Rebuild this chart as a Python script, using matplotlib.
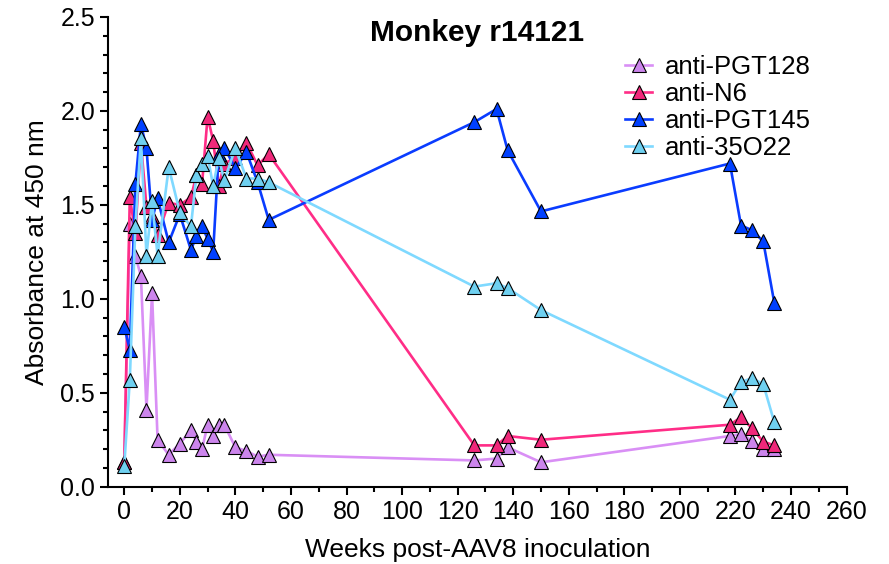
import matplotlib
matplotlib.use("Agg")
import matplotlib.pyplot as plt
from matplotlib.ticker import MultipleLocator

plt.rcParams['font.family'] = ['Liberation Sans', 'DejaVu Sans']

### Sampling times (weeks post-AAV8)
weeks = [0, 2, 4, 6, 8, 10, 12, 16, 20, 24, 26, 28, 30, 32, 34, 36, 40, 44, 48, 52,
         126, 134, 138, 150, 218, 222, 226, 230, 234]

### Absorbance at 450 nm for each probe
pgt128 = [0.13, 1.40, 1.23, 1.12, 0.41, 1.03, 0.25, 0.17, 0.23, 0.30, 0.24, 0.20, 0.33, 0.27,
          0.33, 0.33, 0.21, 0.19, 0.16, 0.17, 0.14, 0.15, 0.21, 0.13, 0.27, 0.28, 0.245, 0.20, 0.20]
n6 = [0.13, 1.54, 1.35, 1.83, 1.49, 1.44, 1.34, 1.51, 1.50, 1.54, 1.66, 1.61, 1.97, 1.84,
      1.60, 1.72, 1.75, 1.83, 1.71, 1.77, 0.22, 0.22, 0.27, 0.25, 0.33, 0.37, 0.31, 0.24, 0.22]
pgt145 = [0.85, 0.73, 1.61, 1.93, 1.80, 1.42, 1.535, 1.30, 1.45, 1.26, 1.335, 1.385, 1.32, 1.25,
          1.77, 1.805, 1.695, 1.78, 1.62, 1.42, 1.94, 2.01, 1.79, 1.465, 1.72, 1.39, 1.365, 1.305, 0.977]
o3522 = [0.11, 0.57, 1.385, 1.855, 1.23, 1.52, 1.23, 1.70, 1.46, 1.385, 1.66, 1.72, 1.76, 1.60,
         1.75, 1.63, 1.80, 1.64, 1.64, 1.62, 1.065, 1.083, 1.057, 0.94, 0.463, 0.557, 0.578, 0.546, 0.342]

series = [
    ('anti-PGT128', pgt128, '#d98ff5', '#cc85ec'),
    ('anti-N6', n6, '#ff2d87', '#f0287a'),
    ('anti-PGT145', pgt145, '#0a3cff', '#0040ff'),
    ('anti-35O22', o3522, '#7fd9ff', '#6fd0f0'),
]

fig = plt.figure(figsize=(8.89, 5.64), dpi=100)
ax = fig.add_axes([0.1218, 0.137, 0.8305, 0.833])

for label, vals, lc, fc in series:
    ax.plot(weeks, vals, color=lc, lw=1.9, marker='^', markersize=10,
            markerfacecolor=fc, markeredgecolor='black', markeredgewidth=0.8,
            label=label, clip_on=False)

ax.set_xlim(-5.75, 260)
ax.set_ylim(0, 2.5)
ax.xaxis.set_major_locator(MultipleLocator(20))
ax.xaxis.set_minor_locator(MultipleLocator(10))
ax.yaxis.set_major_locator(MultipleLocator(0.5))
ax.yaxis.set_minor_locator(MultipleLocator(0.1))
ax.yaxis.set_major_formatter(plt.FuncFormatter(lambda v, p: '%.1f' % v))

for s in ['top', 'right']:
    ax.spines[s].set_visible(False)
for s in ['left', 'bottom']:
    ax.spines[s].set_linewidth(1.5)
ax.tick_params(which='major', length=6, width=1.5, labelsize=18, direction='out')
ax.tick_params(which='minor', length=3.5, width=1.5, direction='out')

ax.set_xlabel('Weeks post-AAV8 inoculation', fontsize=19, labelpad=10)
ax.set_ylabel('Absorbance at 450 nm', fontsize=19, labelpad=8)
ax.text(0.5, 0.966, 'Monkey r14121', transform=ax.transAxes, ha='center', va='center',
        fontsize=21.5, fontweight='bold')

ax.legend(loc='upper left', bbox_to_anchor=(0.70, 0.919), frameon=False, fontsize=18.5,
          handlelength=1.05, handletextpad=0.5, labelspacing=0.12, borderpad=0,
          borderaxespad=0)

plt.savefig('out.png', dpi=100)
